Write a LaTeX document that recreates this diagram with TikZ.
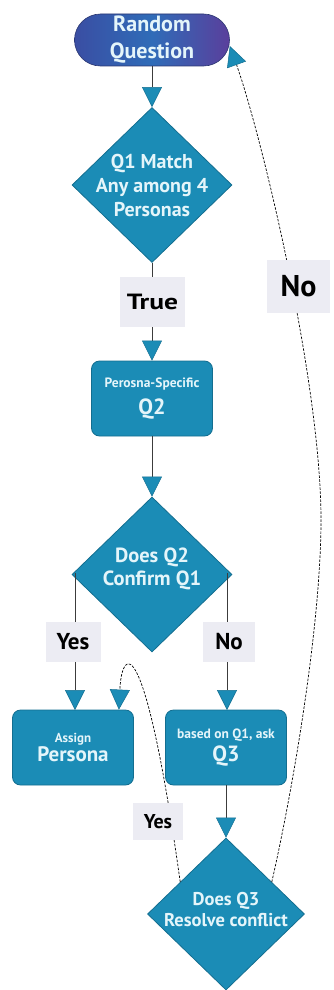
\documentclass[tikz,border=0pt]{standalone}
\usepackage{fontspec}
\setmainfont{PT Sans}
\usetikzlibrary{arrows.meta,shapes.geometric}

\definecolor{flowteal}{HTML}{1B8CB6}
\definecolor{flowedge}{HTML}{136E90}
\definecolor{flowtext}{HTML}{E4F5FA}
\definecolor{tagfill}{HTML}{ECECF3}
\definecolor{linegrey}{HTML}{3C3C3C}
\definecolor{startleft}{HTML}{3A4EA3}
\definecolor{startmid}{HTML}{2F6CB8}
\definecolor{startright}{HTML}{5A3F9C}
\definecolor{startedge}{HTML}{2A3670}

\begin{document}
\begin{tikzpicture}[x=1pt,y=-1pt,
  shapetext/.style={text=flowtext, align=center},
  stepbox/.style={rectangle, rounded corners=8pt, fill=flowteal, draw=flowedge,
    line width=0.8pt, minimum width=121pt, minimum height=75pt, inner sep=0pt,
    shapetext, font=\bfseries},
  decision/.style={diamond, fill=flowteal, draw=flowedge, line width=0.8pt,
    minimum width=160pt, minimum height=155pt, inner sep=0pt},
  tag/.style={rectangle, fill=tagfill, text=black, inner sep=0pt},
  plain/.style={draw=linegrey, line width=0.7pt},
  flow/.style={plain, -{Triangle[width=20pt,length=20pt,fill=flowteal,color=flowedge,line width=0.5pt]}},
  loopback/.style={flow, draw=black, dash pattern=on 2.5pt off 1.5pt},
]
\useasboundingbox (0,0) rectangle (333,990);

% start terminal
\node[rectangle, rounded corners=26pt, minimum width=155pt, minimum height=52pt,
  inner sep=0pt, left color=startleft, right color=startright, middle color=startmid,
  draw=startedge, line width=0.6pt, shapetext,
  font=\bfseries\fontsize{22}{27}\selectfont] (rq) at (152,40) {Random\\Question};

% decisions and steps
\node[decision] (d1) at (152,185) {};
\node[shapetext, font=\bfseries\fontsize{20}{24}\selectfont] (d1t) at (152,185)
  {Q1 Match\\Any among 4\\Personas};

\node[stepbox] (q2) at (152,398.5)
  {{\fontsize{13.5}{15}\selectfont Perosna-Specific}\\[7pt]{\fontsize{22}{24}\selectfont Q2}};

\node[decision] (d2) at (152,574.5) {};
\node[shapetext, font=\bfseries\fontsize{20.5}{23.5}\selectfont] (d2t) at (152,569)
  {Does Q2\\Confirm Q1};

\node[stepbox] (assign) at (73,747.5)
  {{\fontsize{13}{15}\selectfont Assign}\\[0pt]{\fontsize{21}{23}\selectfont Persona}};
\node[stepbox] (q3) at (226,747.5)
  {{\fontsize{13.5}{15}\selectfont based on Q1, ask}\\[3pt]{\fontsize{22}{24}\selectfont Q3}};

\node[decision, minimum width=157pt, minimum height=152pt] (d3) at (226,914) {};
\node[shapetext, font=\bfseries\fontsize{18.5}{21}\selectfont] (d3t) at (226,910)
  {Does Q3\\Resolve conflict};

% connectors
\draw[flow] (rq.south) -- (d1.north);
\draw[plain] (d1.south) -- (152,277) coordinate (ttop);
\draw[flow] (152,327) coordinate (tbot) -- (q2.north);
\draw[flow] (q2.south) -- (d2.north);
\draw[plain] (75,573) coordinate (ybr) -- (75,622) coordinate (ytop);
\draw[flow] (75,662) coordinate (ybot) -- (75,710) coordinate (ain);
\draw[plain] (227,573) coordinate (nbr) -- (227,622) coordinate (ntop);
\draw[flow] (227,662) coordinate (nbot) -- (227,710) coordinate (qin);
\draw[flow] (q3.south) -- (d3.north);

% loop back edges
\draw[loopback] (d3.145) .. controls (145,630) and (122,645) .. ([xshift=-15pt]assign.north east);
\draw[loopback] (d3.35) .. controls (295,780) and (321,620) .. (321,520)
  .. controls (321,380) and (260,130) .. ([yshift=-6pt]rq.east);

% edge tags
\node[tag, minimum width=65pt, minimum height=50pt, font=\bfseries\fontsize{22}{24}\selectfont] (lt) at (152.5,302) {\scalebox{1.25}[1]{True}};
\node[tag, minimum width=63pt, minimum height=53pt, font=\bfseries\fontsize{30}{32}\selectfont] (lno2) at (298.5,286.5) {No};
\node[tag, minimum width=55pt, minimum height=40pt, font=\bfseries\fontsize{23}{25}\selectfont] (lyes) at (73,642) {Yes};
\node[tag, minimum width=52pt, minimum height=40pt, font=\bfseries\fontsize{23}{25}\selectfont] (lno) at (229,642) {No};
\node[tag, minimum width=50pt, minimum height=37pt, font=\bfseries\fontsize{20}{24}\selectfont] (lyes2) at (158,821.5) {Yes};
\end{tikzpicture}
\end{document}
